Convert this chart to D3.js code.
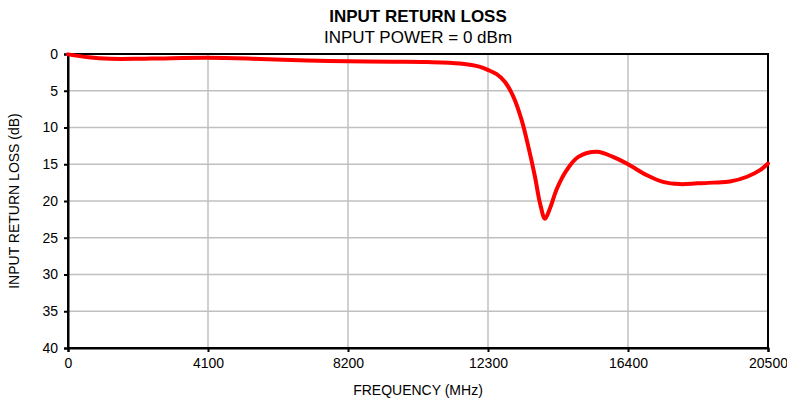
<!DOCTYPE html>
<html><head><meta charset="utf-8">
<script src="https://cdn.jsdelivr.net/npm/d3@7"></script>
<style>
body{margin:0;background:#fff;}
text{font-family:"Liberation Sans",Arial,sans-serif;fill:#000;}
</style></head><body>
<svg id="c" width="787" height="404"></svg>
<script>
const freq = [0,600,1230,2109,2694,4100,5623,7000,8200,9500,10504,11480,12066,12310,12554,12798,13042,13286,13481,13676,13823,13969,14116,14311,14604,14945,15492,15961,16400,16957,17425,17923,18421,18890,19388,19885,20266,20500];
const loss = [0.05,0.45,0.65,0.65,0.6,0.5,0.68,0.9,1.0,1.05,1.1,1.3,1.75,2.2,2.75,3.8,5.8,9.0,12.6,16.7,20.3,22.4,21.0,18.4,15.8,14.0,13.3,14.0,15.0,16.5,17.4,17.7,17.6,17.5,17.35,16.7,15.8,14.9];
const xTicks = [0,4100,8200,12300,16400,20500];
const yTicks = [0,5,10,15,20,25,30,35,40];
const title = "INPUT RETURN LOSS";
const subtitle = "INPUT POWER = 0 dBm";
const xLabel = "FREQUENCY (MHz)";
const yLabel = "INPUT RETURN LOSS (dB)";

const svg = d3.select("#c");
const L=68,R=768,T=54,B=348;
const x = d3.scaleLinear().domain([0,20500]).range([L,R]);
const y = d3.scaleLinear().domain([0,40]).range([T,B]);

svg.append("g").selectAll("line").data(xTicks.slice(1,-1)).join("line")
 .attr("x1",d=>x(d)).attr("x2",d=>x(d)).attr("y1",T).attr("y2",B)
 .attr("stroke","#c0c0c0").attr("stroke-width",1.5);
svg.append("g").selectAll("line").data(yTicks.slice(1,-1)).join("line")
 .attr("x1",L).attr("x2",R).attr("y1",d=>y(d)).attr("y2",d=>y(d))
 .attr("stroke","#c0c0c0").attr("stroke-width",1.5);

svg.append("rect").attr("x",L).attr("y",T).attr("width",R-L).attr("height",B-T)
 .attr("fill","none").attr("stroke","#000").attr("stroke-width",2);

const xa = svg.append("g").attr("transform",`translate(0,${B})`)
 .call(d3.axisBottom(x).tickValues(xTicks).tickSize(4).tickPadding(6).tickFormat(d=>d));
const ya = svg.append("g").attr("transform",`translate(${L},0)`)
 .call(d3.axisLeft(y).tickValues(yTicks).tickSize(4).tickPadding(6).tickFormat(d=>d));
[xa,ya].forEach(a=>{
  a.select(".domain").attr("stroke","#000").attr("stroke-width",2);
  a.selectAll(".tick line").attr("stroke","#000").attr("stroke-width",2);
  a.selectAll("text").attr("font-size",14).attr("font-family",null).attr("fill","#000");
});

const line = d3.line().x((d,i)=>x(freq[i])).y(d=>y(d)).curve(d3.curveCatmullRom.alpha(0.5));
svg.append("path").datum(loss).attr("d",line).attr("fill","none")
 .attr("stroke","#ff0000").attr("stroke-width",4).attr("stroke-linejoin","round").attr("stroke-linecap","round");

svg.append("text").attr("x",(L+R)/2).attr("y",22).attr("text-anchor","middle")
 .attr("font-size",17).attr("font-weight","bold").text(title);
svg.append("text").attr("x",(L+R)/2).attr("y",43).attr("text-anchor","middle")
 .attr("font-size",17).text(subtitle);
svg.append("text").attr("x",(L+R)/2).attr("y",395).attr("text-anchor","middle")
 .attr("font-size",14).text(xLabel);
svg.append("text").attr("transform",`translate(19,${(T+B)/2}) rotate(-90)`).attr("text-anchor","middle")
 .attr("font-size",14).text(yLabel);
</script></body></html>
